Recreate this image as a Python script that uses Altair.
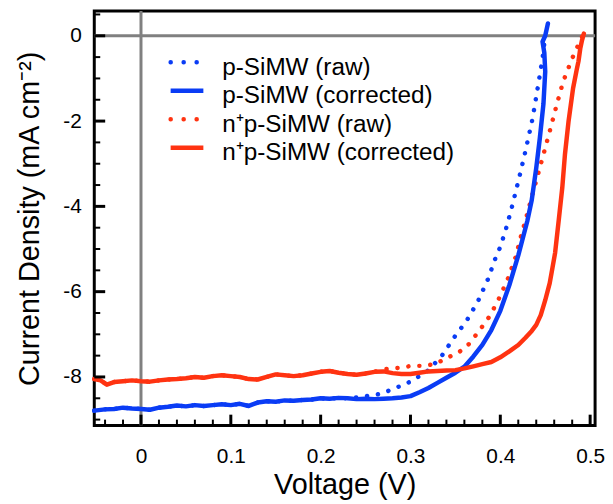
import altair as alt
import pandas as pd

F = "Liberation Sans"

# ---- data ----
names = ["p-SiMW (raw)", "p-SiMW (corrected)", "n⁺p-SiMW (raw)", "n⁺p-SiMW (corrected)"]
colors = ["#0a3cf5", "#0a3cf5", "#ff3311", "#ff3311"]

# p-SiMW: shared low-voltage part
p_low_V = [-0.052, -0.04, -0.03, -0.02, -0.01, 0.0, 0.01, 0.02, 0.03, 0.04, 0.05, 0.06, 0.07,
           0.08, 0.09, 0.10, 0.11, 0.12, 0.13, 0.14, 0.15, 0.16, 0.17, 0.18, 0.19, 0.20, 0.21,
           0.22, 0.23]
p_low_J = [-8.79, -8.76, -8.75, -8.72, -8.74, -8.75, -8.77, -8.72, -8.70, -8.67, -8.69, -8.66,
           -8.68, -8.66, -8.64, -8.66, -8.63, -8.68, -8.60, -8.57, -8.58, -8.55, -8.56, -8.54,
           -8.53, -8.50, -8.51, -8.49, -8.50]
p_corr_V = [0.24, 0.25, 0.26, 0.27, 0.28, 0.29, 0.30, 0.31, 0.32, 0.33, 0.34, 0.35, 0.36, 0.37,
            0.38, 0.39, 0.40, 0.41, 0.42, 0.43, 0.435, 0.44, 0.444, 0.448, 0.450, 0.449, 0.447,
            0.450, 0.453]
p_corr_J = [-8.52, -8.51, -8.52, -8.51, -8.50, -8.48, -8.45, -8.36, -8.26, -8.14, -8.02, -7.90,
            -7.76, -7.52, -7.25, -6.90, -6.45, -5.85, -5.15, -4.35, -3.85, -3.10, -2.40, -1.60,
            -0.84, -0.40, -0.14, 0.00, 0.29]
p_raw_V = [0.24, 0.25, 0.266, 0.281, 0.299, 0.318, 0.334, 0.351, 0.362, 0.375, 0.386, 0.395,
           0.400, 0.406, 0.412, 0.421, 0.428, 0.436, 0.441, 0.447, 0.450]
p_raw_J = [-8.48, -8.45, -8.40, -8.28, -8.12, -7.88, -7.53, -7.00, -6.70, -6.23, -5.72, -5.19,
           -4.95, -4.55, -4.09, -3.33, -2.70, -1.93, -1.30, -0.53, 0.00]

# n+p-SiMW: shared low-voltage part
n_low_V = [-0.052, -0.045, -0.038, -0.03, -0.02, -0.01, 0.0, 0.01, 0.02, 0.03, 0.04, 0.05, 0.06,
           0.07, 0.08, 0.09, 0.10, 0.11, 0.12, 0.13, 0.14, 0.15, 0.16, 0.17, 0.18, 0.19, 0.20,
           0.21, 0.22, 0.23, 0.24, 0.25, 0.26]
n_low_J = [-8.05, -8.08, -8.18, -8.12, -8.10, -8.08, -8.10, -8.11, -8.08, -8.06, -8.05, -8.03,
           -8.00, -8.02, -7.98, -7.96, -7.98, -8.00, -8.05, -8.06, -8.00, -7.94, -7.96, -7.98,
           -7.96, -7.92, -7.88, -7.86, -7.90, -7.93, -7.95, -7.92, -7.88]
n_corr_V = [0.27, 0.28, 0.29, 0.30, 0.31, 0.32, 0.33, 0.34, 0.35, 0.36, 0.37, 0.38, 0.39, 0.40,
            0.41, 0.42, 0.428, 0.435, 0.44, 0.445, 0.45, 0.455, 0.458, 0.461, 0.465, 0.469,
            0.472, 0.476, 0.481, 0.485, 0.487, 0.489, 0.491, 0.493]
n_corr_J = [-7.87, -7.91, -7.93, -7.93, -7.90, -7.87, -7.86, -7.85, -7.84, -7.80, -7.75, -7.70,
            -7.65, -7.54, -7.40, -7.25, -7.08, -6.92, -6.78, -6.55, -6.20, -5.80, -5.45, -5.09,
            -4.33, -3.56, -2.77, -2.00, -1.23, -0.80, -0.60, -0.30, -0.10, 0.05]
n_raw_V = [0.27, 0.28, 0.29, 0.301, 0.314, 0.327, 0.345, 0.354, 0.365, 0.376, 0.388, 0.397,
           0.408, 0.417, 0.423, 0.428, 0.436, 0.444, 0.450, 0.456, 0.463, 0.470, 0.480, 0.486,
           0.492]
n_raw_J = [-7.82, -7.80, -7.78, -7.74, -7.74, -7.70, -7.51, -7.42, -7.23, -6.93, -6.58, -6.23,
           -5.72, -5.19, -4.70, -4.33, -3.70, -3.09, -2.63, -2.16, -1.60, -1.07, -0.53, -0.25,
           0.02]

x_major = [0, 0.1, 0.2, 0.3, 0.4, 0.5]
x_minor = [-0.04, -0.02, 0.02, 0.04, 0.06, 0.08, 0.12, 0.14, 0.16, 0.18, 0.22, 0.24, 0.26, 0.28,
           0.32, 0.34, 0.36, 0.38, 0.42, 0.44, 0.46, 0.48]
y_major = [-8, -6, -4, -2, 0]
y_minor = [-9, -8.5, -7.5, -7, -6.5, -5.5, -5, -4.5, -3.5, -3, -2.5, -1.5, -1, -0.5, 0.5]

# ---- build table ----
rows = []
def add(name, Vs, Js):
    for k, (v, j) in enumerate(zip(Vs, Js)):
        rows.append({"series": name, "V": v, "J": j, "i": k})

add(names[0], p_low_V + p_raw_V, p_low_J + p_raw_J)
add(names[1], p_low_V + p_corr_V, p_low_J + p_corr_J)
add(names[2], n_low_V + n_raw_V, n_low_J + n_raw_J)
add(names[3], n_low_V + n_corr_V, n_low_J + n_corr_J)
df = pd.DataFrame(rows)

W, H = 505, 418
xscale = alt.Scale(domain=[-0.052, 0.5055], nice=False, zero=False)
yscale = alt.Scale(domain=[-9.14, 0.58], nice=False, zero=False)
cscale = alt.Scale(domain=names, range=colors)

xaxis = alt.Axis(values=x_major, labelExpr="toString(datum.value)", ticks=False, domain=False,
                 grid=False, labelFontSize=21, labelFont=F, labelColor="black", labelPadding=20,
                 title="Voltage (V)", titleFont=F, titleFontSize=29, titleFontWeight="normal",
                 titleColor="black", titlePadding=4)
yaxis = alt.Axis(values=y_major, labelExpr="toString(datum.value)", ticks=False, domain=False,
                 grid=False, labelFontSize=21, labelFont=F, labelColor="black", labelPadding=13,
                 title="Current Density (mA cm⁻²)", titleFont=F, titleFontSize=29,
                 titleFontWeight="normal", titleColor="black", titlePadding=19)

def X(field="V"):
    return alt.X(f"{field}:Q", scale=xscale, axis=xaxis)

def Y(field="J"):
    return alt.Y(f"{field}:Q", scale=yscale, axis=yaxis)

zero_v = alt.Chart(pd.DataFrame({"V": [0]})).mark_rule(color="#808080", strokeWidth=3).encode(
    x=X())
zero_h = alt.Chart(pd.DataFrame({"J": [0]})).mark_rule(color="#808080", strokeWidth=3).encode(
    y=Y())

base = alt.Chart(df).encode(
    x=X(),
    y=Y(),
    color=alt.Color("series:N", scale=cscale, legend=None),
    order="i:Q",
    detail="series:N",
)
raw = base.transform_filter(alt.FieldOneOfPredicate(field="series", oneOf=[names[0], names[2]])) \
    .mark_line(strokeWidth=4.5, strokeDash=[0.1, 11], strokeCap="round")
corr = base.transform_filter(alt.FieldOneOfPredicate(field="series", oneOf=[names[1], names[3]])) \
    .mark_line(strokeWidth=4.5, strokeJoin="round", strokeCap="round")

xmaj = alt.Chart(pd.DataFrame({"V": x_major})).mark_rule(color="black", strokeWidth=3).encode(
    x=X(), y=alt.value(H), y2=alt.value(H - 11))
xmin = alt.Chart(pd.DataFrame({"V": x_minor})).mark_rule(color="black", strokeWidth=2).encode(
    x=X(), y=alt.value(H), y2=alt.value(H - 6))
ymaj = alt.Chart(pd.DataFrame({"J": y_major})).mark_rule(color="black", strokeWidth=3).encode(
    y=Y(), x=alt.value(0), x2=alt.value(11))
ymin = alt.Chart(pd.DataFrame({"J": y_minor})).mark_rule(color="black", strokeWidth=2).encode(
    y=Y(), x=alt.value(0), x2=alt.value(6))

legend_layers = []
for k in range(4):
    ys = 51.7 + 28.7 * k
    one = pd.DataFrame({"t": [names[k]]})
    if k % 2 == 0:
        sym = alt.Chart(one).mark_rule(color=colors[k], strokeWidth=4.5, strokeDash=[0.1, 13],
                                       strokeCap="round")
    else:
        sym = alt.Chart(one).mark_rule(color=colors[k], strokeWidth=4.5)
    sym = sym.encode(x=alt.value(77), x2=alt.value(110), y=alt.value(ys))
    txt = alt.Chart(one).mark_text(align="left", baseline="alphabetic", font=F, fontSize=24.5,
                                   color="black").encode(
        x=alt.value(129), y=alt.value(ys + 12.8), text="t:N")
    legend_layers += [sym, txt]

chart = alt.layer(zero_v, zero_h, raw, corr, xmaj, xmin, ymaj, ymin, *legend_layers).properties(
    width=W, height=H,
    padding={"left": 87, "top": 1, "right": 10, "bottom": 76},
    autosize=alt.AutoSizeParams(type="none"),
).configure_view(stroke="black", strokeWidth=3)

chart.save("out.html", embed_options={"renderer": "svg", "actions": False})
